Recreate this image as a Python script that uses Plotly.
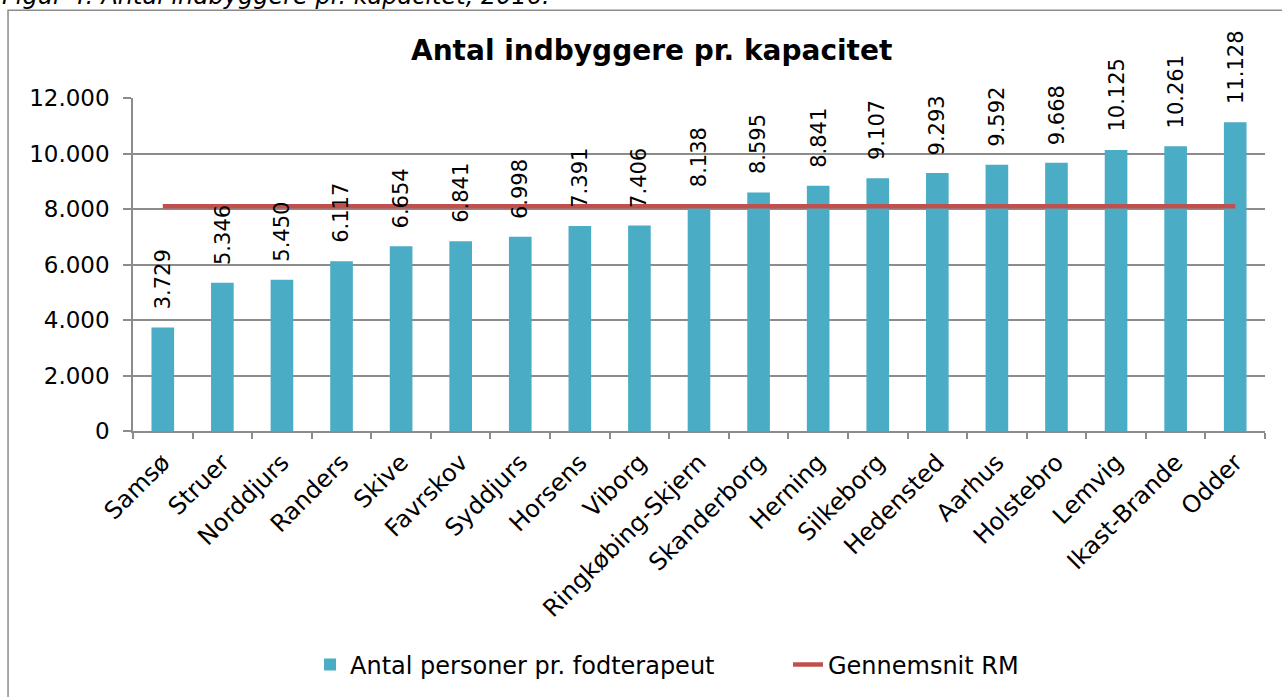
import plotly.graph_objects as go

categories = ["Samsø", "Struer", "Norddjurs", "Randers", "Skive", "Favrskov", "Syddjurs",
              "Horsens", "Viborg", "Ringkøbing-Skjern", "Skanderborg", "Herning", "Silkeborg",
              "Hedensted", "Aarhus", "Holstebro", "Lemvig", "Ikast-Brande", "Odder"]
values = [3729, 5346, 5450, 6117, 6654, 6841, 6998, 7391, 7406, 8138, 8595, 8841, 9107,
          9293, 9592, 9668, 10125, 10261, 11128]
average_rm = 8100
bar_name = "Antal personer pr. fodterapeut"
line_name = "Gennemsnit RM"
title = "Antal indbyggere pr. kapacitet"
caption = "Figur 4: Antal indbyggere pr. kapacitet, 2016."

labels = [f"{v:,}".replace(",", ".") for v in values]
FONT = "DejaVu Sans, Verdana, sans-serif"
BAR_COLOR = "#4BACC6"
LINE_COLOR = "#C0504D"
GRAY = "#8C8C8C"

fig = go.Figure()
fig.add_trace(go.Bar(
    x=categories, y=values, name=bar_name,
    marker=dict(color=BAR_COLOR, line=dict(width=0)),
    cliponaxis=False, legend="legend",
))
fig.add_trace(go.Scatter(
    x=categories, y=[average_rm] * len(categories), name=line_name,
    mode="lines", line=dict(color=LINE_COLOR, width=4.5), legend="legend2",
))

annotations = [
    dict(x=c, y=v, xref="x", yref="y", text=t, textangle=-90, showarrow=False,
         xanchor="center", yanchor="bottom", yshift=16,
         font=dict(family=FONT, size=21, color="black"))
    for c, v, t in zip(categories, values, labels)
]
annotations += [
    dict(text="<b>" + title + "</b>", xref="paper", yref="paper", x=0.4576, y=1.1437,
         xanchor="center", yanchor="middle", showarrow=False,
         font=dict(family=FONT, size=28, color="black")),
    dict(text="<i>" + caption + "</i>", xref="paper", yref="paper", x=-0.1175, y=1.2575,
         xanchor="left", yanchor="bottom", showarrow=False,
         font=dict(family=FONT, size=24, color="black")),
]

legend_font = dict(family=FONT, size=24, color="black")
fig.update_layout(
    width=1282, height=697,
    paper_bgcolor="white", plot_bgcolor="white",
    margin=dict(l=133, r=17, t=98, b=265),
    separators=",.",
    bargap=0.62,
    font=dict(family=FONT, color="black"),
    showlegend=True,
    legend=dict(orientation="h", x=0.1564, xanchor="left", y=-0.6976, yanchor="middle",
                font=legend_font, bgcolor="rgba(0,0,0,0)"),
    legend2=dict(orientation="h", x=0.5786, xanchor="left", y=-0.6976, yanchor="middle",
                 font=legend_font, bgcolor="rgba(0,0,0,0)"),
    annotations=annotations,
    shapes=[
        dict(type="rect", xref="paper", yref="paper", x0=-0.1104, x1=1.05, y0=-0.85, y1=1.2635,
             line=dict(color=GRAY, width=1.5), fillcolor="rgba(0,0,0,0)", layer="below"),
    ],
)
fig.update_xaxes(
    tickangle=-45, tickfont=dict(family=FONT, size=24),
    showline=True, linecolor=GRAY, linewidth=1.5,
    ticks="outside", tickson="boundaries", ticklen=6, tickcolor=GRAY, tickwidth=1.5,
    ticklabelstandoff=6,
    showgrid=False,
)
fig.update_yaxes(
    range=[0, 12000], dtick=2000, tickformat=",d",
    tickfont=dict(family=FONT, size=23),
    showline=True, linecolor=GRAY, linewidth=1.5,
    ticks="outside", ticklen=8, tickcolor=GRAY, tickwidth=1.5,
    ticklabelstandoff=9,
    showgrid=True, gridcolor=GRAY, gridwidth=1.5, zeroline=False,
)

fig.write_html("out.html", config={"displayModeBar": False},
               post_script="document.body.style.margin='0';")
